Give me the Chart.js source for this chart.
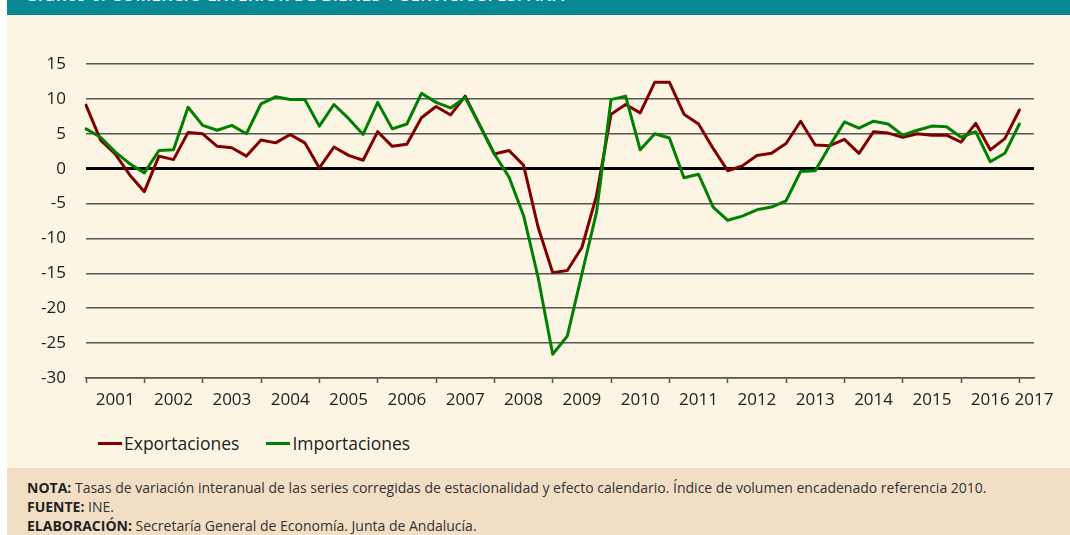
<!DOCTYPE html>
<html><head><meta charset="utf-8">
<script src="https://cdn.jsdelivr.net/npm/chart.js@4/dist/chart.umd.min.js"></script>
<style>
html,body{margin:0;padding:0;background:#fff;width:1070px;height:535px;overflow:hidden;font-family:"Open Sans",sans-serif;}
#header{position:absolute;left:7px;top:0;width:1063px;height:15px;background:#078A95;overflow:hidden;}
#header span{position:absolute;left:18px;top:-17px;color:#fff;font-size:17px;font-weight:600;white-space:nowrap;letter-spacing:0.3px;}
#panel{position:absolute;left:7px;top:15px;width:1063px;height:453px;background:#FDF5E3;}
#wrap{position:absolute;left:7px;top:15px;width:1063px;height:400px;}
#legend{position:absolute;left:98px;top:432px;height:22px;display:flex;align-items:center;font-size:17.5px;color:#222;}
#legend .item{display:flex;align-items:center;margin-right:27px;}
#legend .ln{width:24px;height:3px;margin-right:2px;}
#footer{position:absolute;left:7px;top:468px;width:1063px;height:67px;background:#F2DEC5;padding:10px 0 0 20px;box-sizing:border-box;font-size:14px;line-height:19px;color:#333;white-space:nowrap;}
#footer b{color:#222;}
</style>
</head><body>
<div id="header"><span>Gráfico 6. COMERCIO EXTERIOR DE BIENES Y SERVICIOS. ESPAÑA</span></div>
<div id="panel"></div>
<div id="wrap"><canvas id="c" width="1063" height="400"></canvas></div>
<div id="legend">
  <div class="item"><div class="ln" style="background:#800000"></div><span>Exportaciones</span></div>
  <div class="item"><div class="ln" style="background:#008000"></div><span>Importaciones</span></div>
</div>
<div id="footer">
  <div><b>NOTA:</b> Tasas de variación interanual de las series corregidas de estacionalidad y efecto calendario. Índice de volumen encadenado referencia 2010.</div>
  <div><b>FUENTE:</b> INE.</div>
  <div><b>ELABORACIÓN:</b> Secretaría General de Economía. Junta de Andalucía.</div>
</div>
<script>
// Tick labels (years)
const years = ['2001','2002','2003','2004','2005','2006','2007','2008','2009','2010','2011','2012','2013','2014','2015','2016','2017'];
const quarters = ['T1','T2','T3','T4'];
// Categories: quarters 2001 T1 ... 2017 T2 (last one empty)
const categories = years.flatMap(y => quarters.map(q => y + ' ' + q)).slice(0, 66);

// Tasas de variación interanual (%)
const exportaciones = [9.1, 4.1, 2.1, -0.9, -3.3, 1.8, 1.3, 5.2, 5.0, 3.2,
  3.0, 1.8, 4.1, 3.7, 4.9, 3.7, 0.1, 3.1, 1.9, 1.2,
  5.3, 3.2, 3.5, 7.3, 8.9, 7.7, 10.4, 6.2, 2.1, 2.6,
  0.5, -8.4, -14.9, -14.6, -11.3, -3.9, 7.8, 9.2, 8.0, 12.4,
  12.4, 7.8, 6.4, 2.9, -0.3, 0.4, 1.9, 2.2, 3.6, 6.8,
  3.4, 3.3, 4.2, 2.2, 5.3, 5.1, 4.5, 5.0, 4.8, 4.8,
  3.8, 6.5, 2.7, 4.3, 8.4];
const importaciones = [5.7, 4.5, 2.4, 0.7, -0.6, 2.6, 2.7, 8.8, 6.2, 5.5,
  6.2, 5.0, 9.3, 10.3, 9.9, 9.9, 6.1, 9.2, 7.2, 4.9,
  9.5, 5.7, 6.4, 10.8, 9.5, 8.7, 10.2, 6.2, 2.1, -1.2,
  -6.7, -15.6, -26.6, -24.0, -15.1, -6.3, 9.9, 10.4, 2.7, 5.0,
  4.4, -1.3, -0.8, -5.5, -7.4, -6.8, -5.9, -5.5, -4.6, -0.4,
  -0.3, 3.3, 6.7, 5.8, 6.8, 6.4, 4.8, 5.5, 6.1, 6.0,
  4.5, 5.3, 1.0, 2.2, 6.4];

const FONT = {family: '"Open Sans", sans-serif', size: 17};
const GRID = '#555555';

new Chart(document.getElementById('c'), {
  type: 'line',
  data: {
    labels: categories,
    datasets: [
      {label: 'Exportaciones', data: exportaciones, borderColor: '#800000', backgroundColor: '#800000',
       borderWidth: 3, pointRadius: 0, tension: 0, borderJoinStyle: 'round', borderCapStyle: 'round', order: 2},
      {label: 'Importaciones', data: importaciones, borderColor: '#008000', backgroundColor: '#008000',
       borderWidth: 3, pointRadius: 0, tension: 0, borderJoinStyle: 'round', borderCapStyle: 'round', order: 1}
    ]
  },
  options: {
    responsive: false,
    animation: false,
    devicePixelRatio: 1,
    layout: {padding: {top: 49, right: 36, left: 0, bottom: 0}},
    plugins: {legend: {display: false}, tooltip: {enabled: false}},
    scales: {
      x: {
        type: 'category',
        offset: false,
        border: {display: true, color: GRID, width: 1.5},
        grid: {
          drawOnChartArea: false, drawTicks: true, tickLength: 5, tickWidth: 1.5,
          tickColor: ctx => (ctx.index % 4 === 0 && ctx.index <= 64) ? GRID : 'rgba(0,0,0,0)'
        },
        ticks: {
          autoSkip: false, maxRotation: 0, minRotation: 0, padding: 7,
          color: '#222', font: FONT,
          callback: (v, i) => {
            if (i === 65) return years[16];
            if (i % 4 === 2 && i < 64) return years[(i - 2) / 4];
            return '';
          }
        },
        afterFit: s => { s.height = 37; }
      },
      y: {
        min: -30, max: 15,
        border: {display: false},
        grid: {
          drawTicks: false,
          color: ctx => ctx.tick.value === 0 ? '#000' : GRID,
          lineWidth: ctx => ctx.tick.value === 0 ? 3 : 1.5
        },
        ticks: {stepSize: 5, padding: 20, color: '#222', font: FONT},
        afterFit: s => { s.width = 79; }
      }
    }
  }
});
</script>
</body></html>
